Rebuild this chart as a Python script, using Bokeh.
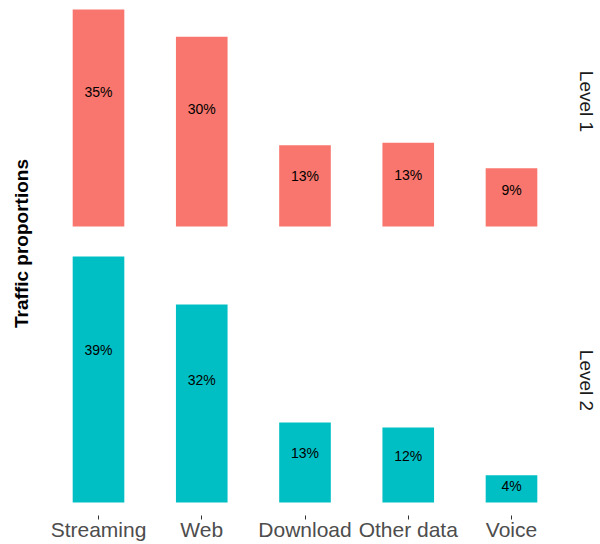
import math
from bokeh.plotting import figure
from bokeh.models import ColumnDataSource, Range1d, Label
from bokeh.core.properties import value
from bokeh.embed import file_html
from bokeh.resources import INLINE

# ---- data ----
categories = ["Streaming", "Web", "Download", "Other data", "Voice"]
level1_values = [35.0, 30.6, 13.1, 13.5, 9.4]
level2_values = [39.0, 31.4, 12.7, 11.9, 4.3]
level1_labels = ["35%", "30%", "13%", "13%", "9%"]
level2_labels = ["39%", "32%", "13%", "12%", "4%"]
levels = ["Level 1", "Level 2"]
y_title = "Traffic proportions"

# ---- styling ----
COL1 = "#F8766D"
COL2 = "#00BFC4"
FONT = "Liberation Sans"
LABEL_FRAC = 0.62

src1 = ColumnDataSource(dict(cat=categories, val=level1_values, lab=level1_labels,
                             ly=[v * LABEL_FRAC for v in level1_values]))
src2 = ColumnDataSource(dict(cat=categories, val=level2_values, lab=level2_labels,
                             ly=[v * LABEL_FRAC for v in level2_values]))

p = figure(x_range=categories, y_range=Range1d(-2.061, 79.58),
           frame_width=591, frame_height=515,
           min_border_left=9, min_border_right=0, min_border_top=0, min_border_bottom=0,
           output_backend="svg", toolbar_location=None,
           background_fill_color="white", border_fill_color="white")
p.extra_y_ranges = {"l1": Range1d(-46.61, 36.45)}
p.x_range.range_padding = 0.362
p.x_range.range_padding_units = "absolute"

p.vbar(x="cat", top="val", bottom=0, width=0.5, source=src1, y_range_name="l1",
       fill_color=COL1, line_color=None)
p.vbar(x="cat", top="val", bottom=0, width=0.5, source=src2,
       fill_color=COL2, line_color=None)

p.text(x="cat", y="ly", text="lab", source=src1, y_range_name="l1",
       text_align="center", text_baseline="middle", text_font=value(FONT),
       text_font_size="14px", text_color="#000000")
p.text(x="cat", y="ly", text="lab", source=src2,
       text_align="center", text_baseline="middle", text_font=value(FONT),
       text_font_size="14px", text_color="#000000")

p.xgrid.visible = False
p.ygrid.visible = False
p.outline_line_color = None
p.yaxis.visible = False

ax = p.xaxis[0]
ax.axis_line_color = None
ax.major_tick_line_color = "#333333"
ax.major_tick_in = 0
ax.major_tick_out = 4
ax.minor_tick_line_color = None
ax.major_label_standoff = -2
ax.major_label_text_font = FONT
ax.major_label_text_font_size = "21px"
ax.major_label_text_color = "#4D4D4D"

p.add_layout(Label(x=12, y=272, x_units="screen", y_units="screen", text=y_title,
                   angle=math.pi / 2, text_align="center", text_baseline="middle",
                   text_font=FONT, text_font_size="19px", text_font_style="bold",
                   text_color="#000000"))
p.add_layout(Label(x=577, y=414, x_units="screen", y_units="screen", text=levels[0],
                   angle=-math.pi / 2, text_align="center", text_baseline="middle",
                   text_font=FONT, text_font_size="19px", text_color="#1A1A1A"))
p.add_layout(Label(x=577, y=135, x_units="screen", y_units="screen", text=levels[1],
                   angle=-math.pi / 2, text_align="center", text_baseline="middle",
                   text_font=FONT, text_font_size="19px", text_color="#1A1A1A"))

open("out.html", "w").write(file_html(p, INLINE))
